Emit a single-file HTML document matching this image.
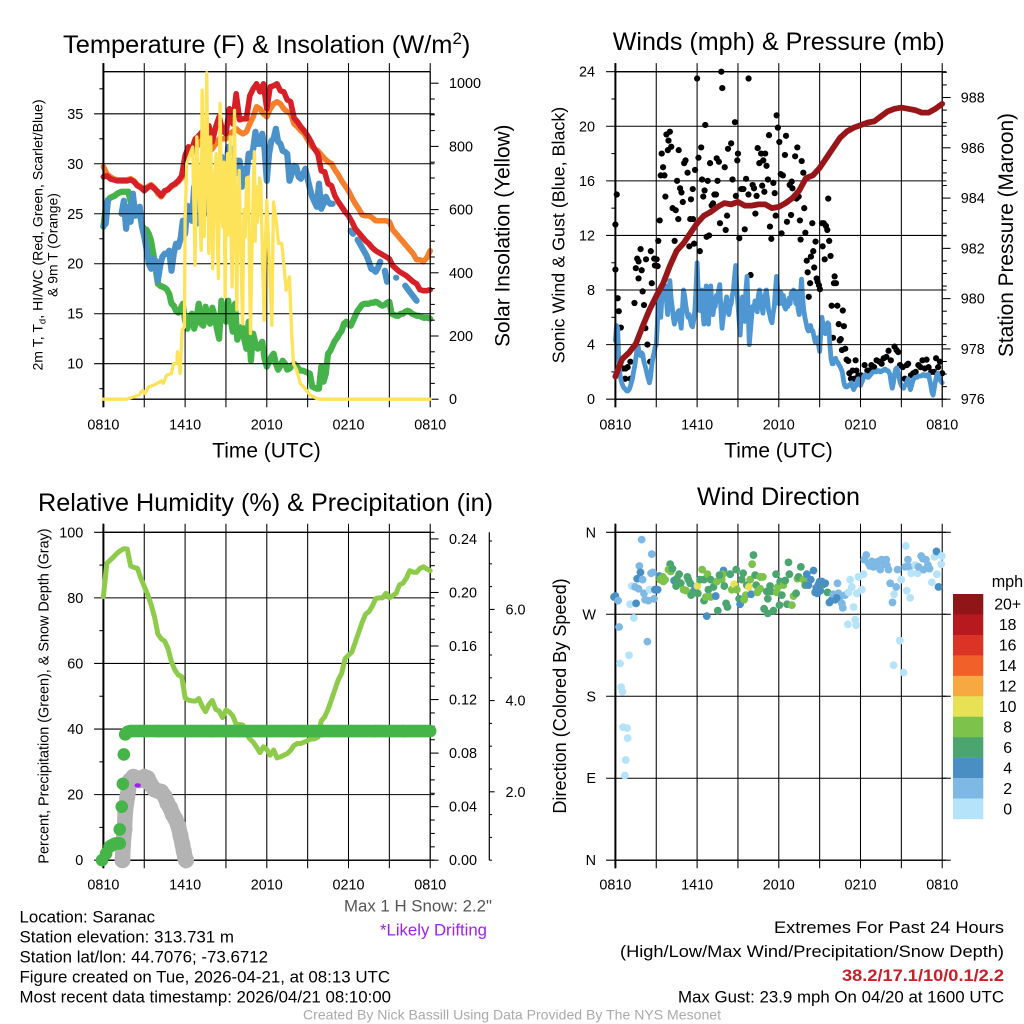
<!DOCTYPE html>
<html lang="en">
<head>
<meta charset="utf-8">
<title>Saranac Mesonet Meteogram</title>
<style>
html,body{margin:0;padding:0;background:#fff;width:1024px;height:1024px;overflow:hidden}
svg{display:block}
text{font-family:"Liberation Sans",sans-serif;fill:#000}
.title{font-size:25px}
.axis-big{font-size:20.8px}
.foot{font-size:16.2px}
</style>
</head>
<body>
<svg id="chart" width="1024" height="1024" viewBox="0 0 1024 1024">
<rect width="1024" height="1024" fill="#fff"/>
<g id="p1"></g>
<g id="p2"></g>
<g id="p3"></g>
<g id="p4"></g>
<g id="legend"></g>

<text class="title" x="63" y="53" style="font-size:25.4px">Temperature (F) &amp; Insolation (W/m<tspan dy="-9" font-size="17">2</tspan><tspan dy="9">)</tspan></text>
<text class="title" x="612.7" y="50" textLength="332" lengthAdjust="spacingAndGlyphs">Winds (mph) &amp; Pressure (mb)</text>
<text class="title" x="38" y="511" textLength="455" lengthAdjust="spacingAndGlyphs">Relative Humidity (%) &amp; Precipitation (in)</text>
<text class="title" x="697" y="505" textLength="163" lengthAdjust="spacingAndGlyphs">Wind Direction</text>

<text class="axis-big" x="212.3" y="457.3" textLength="108.4" lengthAdjust="spacingAndGlyphs">Time (UTC)</text>
<text class="axis-big" x="724.3" y="457.3" textLength="108.4" lengthAdjust="spacingAndGlyphs">Time (UTC)</text>

<text transform="translate(42.7,235) rotate(-90)" text-anchor="middle" font-size="14.1">2m T, T<tspan dy="3" font-size="9.5">d</tspan><tspan dy="-3">, HI/WC (Red, Green, Scarlet/Blue)</tspan></text>
<text transform="translate(57.3,245) rotate(-90)" text-anchor="middle" font-size="13.9">&amp; 9m T (Orange)</text>
<text class="axis-big" transform="translate(509.3,235.7) rotate(-90)" text-anchor="middle">Solar Insolation (Yellow)</text>
<text transform="translate(564.3,235) rotate(-90)" text-anchor="middle" font-size="17.9">Sonic Wind &amp; Gust (Blue, Black)</text>
<text class="axis-big" transform="translate(1013,235) rotate(-90)" text-anchor="middle">Station Pressure (Maroon)</text>
<text transform="translate(48.7,696) rotate(-90)" text-anchor="middle" font-size="14.4">Percent, Precipitation (Green), &amp; Snow Depth (Gray)</text>
<text transform="translate(566,696) rotate(-90)" text-anchor="middle" font-size="18.1">Direction (Colored By Speed)</text>

<text class="foot" x="344" y="911.7" textLength="148" lengthAdjust="spacingAndGlyphs" style="fill:#555">Max 1 H Snow: 2.2"</text>
<text class="foot" x="380" y="935.7" textLength="107" lengthAdjust="spacingAndGlyphs" style="fill:#a020f0">*Likely Drifting</text>
<text class="foot" x="19.5" y="922.3" textLength="135.5" lengthAdjust="spacingAndGlyphs">Location: Saranac</text>
<text class="foot" x="19.5" y="942.7" textLength="214.5" lengthAdjust="spacingAndGlyphs">Station elevation: 313.731 m</text>
<text class="foot" x="19.5" y="962.3" textLength="248.5" lengthAdjust="spacingAndGlyphs">Station lat/lon: 44.7076; -73.6712</text>
<text class="foot" x="19.5" y="982.3" textLength="370.5" lengthAdjust="spacingAndGlyphs">Figure created on Tue, 2026-04-21, at 08:13 UTC</text>
<text class="foot" x="19.5" y="1002.3" textLength="371.5" lengthAdjust="spacingAndGlyphs">Most recent data timestamp: 2026/04/21 08:10:00</text>
<text class="foot" x="774" y="933" textLength="230" lengthAdjust="spacingAndGlyphs">Extremes For Past 24 Hours</text>
<text class="foot" x="620" y="957" textLength="384" lengthAdjust="spacingAndGlyphs">(High/Low/Max Wind/Precipitation/Snow Depth)</text>
<text class="foot" x="842" y="981" textLength="162" lengthAdjust="spacingAndGlyphs" font-weight="bold" style="fill:#c8202a">38.2/17.1/10/0.1/2.2</text>
<text class="foot" x="678" y="1002.3" textLength="326" lengthAdjust="spacingAndGlyphs">Max Gust: 23.9 mph On 04/20 at 1600 UTC</text>
<text x="303" y="1019.7" textLength="418" lengthAdjust="spacingAndGlyphs" font-size="14" style="fill:#aaa">Created By Nick Bassill Using Data Provided By The NYS Mesonet</text>
</svg>

<script>
// ---- shared x axis ----
const timeTickHours = [0,3,6,9,12,15,18,21,24];
const timeLabelHours = [0,6,12,18,24];
const timeLabels = ["0810","1410","2010","0210","0810"];

// ---- panel 1: evenly spaced samples across 24 h ----
const temp2m = [
28.7,28.8,28.5,28.4, 28.3,28.3,28.3,28.3, 28.4,28.2,27.8,27.6, 27.3,27.6,27.8,27.5,
27.2,26.8,27.3,27.4, 27.8,28.0,28.3,28.8, 30.8,31.7,31.5,32.5, 32.8,33.2,33.3,33.8,
32.2,33.7,34.7,33.3, 33.0,35.5,34.0,37.0, 34.4,34.5,34.5,36.8, 37.5,38.0,37.2,38.0,
35.5,37.7,37.8,38.0, 37.3,37.2,36.4,36.2, 34.6,34.2,33.7,33.3, 32.8,32.2,31.5,31.0,
29.3,29.2,28.0,27.8, 26.8,26.2,25.7,25.2, 24.8,24.2,23.5,23.1, 22.7,22.3,22.0,21.6,
21.3,21.1,20.9,20.7, 20.5,19.8,19.5,19.2, 19.0,18.8,18.5,18.2, 18.0,17.4,17.3,17.3, 17.4];
const temp9m = [
29.7,29.0,28.7,28.5, 28.4,28.4,28.4,28.4, 28.5,28.3,27.9,27.7, 27.4,27.7,27.9,27.6,
27.0,26.7,27.2,27.5, 27.7,27.9,28.2,28.6, 30.0,31.0,31.0,31.5, 32.0,32.5,31.5,31.2,
31.5,32.0,32.5,32.5, 32.5,33.0,33.2,33.5, 33.2,33.0,33.2,34.0, 34.7,35.7,35.5,35.0,
34.7,35.5,36.0,36.2, 36.0,35.5,35.2,35.0, 34.0,33.7,33.3,33.0, 32.4,31.8,31.5,31.3,
30.9,30.5,30.2,30.0, 29.4,28.9,28.3,27.8, 27.3,26.6,26.0,25.5, 24.9,24.8,24.8,24.6,
24.3,24.3,24.3,24.3, 24.2,23.4,23.0,22.6, 22.2,21.8,21.4,21.0, 20.4,20.4,20.2,20.6, 21.3];
const windChill = [
23.8,24,26.3,null,null,null, null,null,25,26.3,23.5,25.7, 24.2,27,24.8,25.2,25.7,23.7,
22.7,21.5,20,19.5,20.5,20.3, 18.3,19.8,20.7,21,21,21.3, 19.3,21,22,21.7,22.5,24.3,
23,25.8,25.5,24.3,27.7,24, 24.5,25.8,27.7,25.5,25,28, 27,28,28,26.5,30.7,29,
28.7,31.7,29.5,31.5,29,30.3, 30.3,27.7,29.5,28.7,31,30.7, 31.5,33.2,32,32,33,31.5,
28.3,31,32.3,32.5,33.5,32.2, 32,31.3,31.2,31,28.3,29, 29.8,29.7,28.7,28.5,29,29.5,
28.5,27.5,26.7,26.2,25.7,28, 25.5,26,26.7,26.2,26,26, null,null,null,null,null,null,
null,23.3,23,null,22.4,22, 21.6,21.2,20.8,20.2,19.5,19.4, 19.2,19.6,20.2,null,19.3,18.2,
null,null,null,18.6,null,null, null,17.8,17.5,17.2,16.9,16.6, 16.3,null,null,null,null,null, null];
const dewPoint = [
23.7,25.5,26.4,26.6,26.7,26.8, 27,27.1,27.2,27.2,27.2,27.2, 26.2,25.5,25.3,25.2,25,23.8,
23.5,23.4,23,22.3,21,19.5, 18,17.8,17.7,17.6,17.4,17, 16,15.8,15.3,15.1,15.5,16,
14.3,13.5,14.6,15,13.5,14.5, 16,14,13.8,15.7,14.5,14, 15.6,14.8,13.5,12.5,16.3,15,
14.2,16.3,14.5,13.2,16,12.4, 13,13.7,12.5,11.5,14.2,10.3, 13,12,11.5,11.8,12.2,10.5,
9.7,10.2,10.7,11,10,9.4, 9.8,10.3,10,9.4,9.5,9.8, 10,9.8,9.5,9.3,9.3,9.2,
9.1,9,7.7,7.6,7.5,7.5, 9.7,8.2,9,11,11.3,11.8, 12.3,12.6,13,13.3,14,14.2,
13.9,13.8,14.3,14.8,15.3,15.6, 15.9,16,16,16,16.1,16.1, 16.2,16.1,15.9,15.8,15.9,16.1,
16.2,15,14.9,14.8,14.8,15, 15,15.2,15.3,15.2,15,14.9, 14.8,14.8,14.7,14.6,14.6,14.6, 14.5];
const solarHours = [
0,1.7,2.2,2.6,2.89,3.06,3.31,3.67,4.28,4.4,4.65,5,5.14,5.39,5.44,5.64,5.78,5.95,6,6.12,
6.37,6.56,6.73,6.86,6.98,7.18,7.25,7.4,7.59,7.74,7.88,8.03,8.15,8.28,8.36,8.45,8.57,8.68,8.77,8.85,
8.94,9.03,9.11,9.2,9.31,9.38,9.45,9.55,9.63,9.72,9.8,9.88,9.97,10.1,10.22,10.32,10.41,10.52,10.66,10.73,
10.8,10.88,10.95,11.02,11.09,11.15,11.22,11.3,11.39,11.47,11.56,11.68,11.8,11.9,12,12.37,12.49,12.69,12.86,13.1,
13.22,13.42,13.66,13.84,13.96,14.2,14.45,14.81,15.18,15.67,15.9,24];
const solarValues = [
0,0,7,13,28,18,39,44,58,50,76,81,113,113,150,81,218,229,566,746,
777,798,424,830,714,471,978,515,1033,461,830,413,700,777,500,382,936,600,545,750,
324,650,777,520,830,500,355,700,914,500,282,620,724,450,239,600,513,700,703,400,
208,400,545,700,783,500,673,560,588,700,683,450,250,500,630,234,624,566,493,493,
440,345,387,197,113,92,50,34,13,2,0,0];
const tempTicks = [10,15,20,25,30,35];
const tempMinorTicks = [7.5,12.5,17.5,22.5,27.5,32.5,37.5];
const solarTicks = [0,200,400,600,800,1000];
const solarMinorTicks = [50,100,150,250,300,350,450,500,550,650,700,750,850,900,950];

// ---- panel 2 ----
const windSpeed = [
4.3,5.4,5.2,3,1.8,1.4,1.1,0.9,0.8,0.7,0.6,0.6,
0.7,0.9,1.2,1.5,2,2.4,3,3.6,3.9,3.4,3.2,3.4,
3.3,2.8,2.5,2.2,1.8,1.5,1.2,1.6,2.5,3,3.4,3.8,
4,5.5,8,7,6,7.5,8,7.6,8.3,7.2,6.2,7.5,
8.7,7.5,6.8,6,5.5,5.8,6,6.4,6.5,5.8,5.2,6.5,
8,7.6,6.9,6.4,6,6.2,5.8,5.4,5.3,5.8,6.5,8,
10,8,6.5,7.2,8,6.5,5.5,7,8.3,6.8,5.5,7,
8.3,7,6.2,6.8,6.8,7.6,7.2,8,8.4,6.5,5.2,6,
6.5,7,7.5,6.8,6.2,6.8,7,7.6,8,9,9.8,8,
7,5.8,4.7,6.5,7.5,6.2,5.7,8,9,6.5,4,5,
6,6.8,6.6,7.2,7,6.4,7.6,8,7.5,6.8,6.3,7.2,
7.6,8,7.4,6.5,6.2,5.8,5.6,6.3,6.8,8,9,8,
7,7.6,7.8,7,7.6,6.8,6.6,7.2,6.8,7.4,7,7.8,
7.5,8,7.8,7,7.8,6.6,6.2,7.5,8.8,7.5,6.5,6,
5.6,5.2,5,5.2,5.4,5,5,4.6,4.2,4.3,4.5,4,
3.5,4.8,6,5.4,5.2,4.8,5.2,5.6,5.5,4,3,2.6,
2.6,2.9,3,2.8,2.7,2.5,2.4,2.2,2,1.4,1,0.9,
0.9,1,1,1.1,1.2,0.9,0.7,0.9,1,1.3,1.5,1.2,
1,1.2,1.4,1.7,1.8,1.7,1.6,1.6,1.7,1.8,1.9,2,
2,2,2,2.1,2.1,2,2,2.1,2.1,2.2,2.2,2.1,
2.1,2,1.8,1.2,0.8,1.2,1.8,2.2,2.3,2,1.6,1.2,
1,0.9,0.8,1,1.1,1.3,1.5,1,0.7,1,1.3,1.5,
1.6,1.6,1.6,1.7,1.7,1.7,1.7,1.8,1.8,1.7,1.7,1.8,
1.8,1.4,1,0.5,0.3,0.8,1.3,1.7,1.9,1.6,1.4,1.3,
1.2];
const pressure = [
976.9,977.6, 977.85,978.2, 978.9,979.55, 980.1,980.6, 981.3,981.9, 982.2,982.6,
983.0,983.3, 983.45,983.65, 983.8,983.75, 983.85,983.7, 983.7,983.75, 983.75,983.6,
983.65,983.8, 984.0,984.3, 984.8,984.9, 985.2,985.6, 986,986.4, 986.65,986.8,
986.9,987.0, 987.05,987.25, 987.45,987.55, 987.6,987.55, 987.5,987.4, 987.4,987.55, 987.75];
const gustHours = [
0,0,.1,.17,.25,.4,.6,.75,.9,.72,1.1,1.1,1.4,1.5,1.6,1.7,1.7,1.85,1.93,2,
2.1,2.2,2.35,2.25,2.55,2.6,2.67,2.85,3.03,2.9,3.1,3.15,3.25,3.33,3.4,3.5,3.6,3.67,3.75,3.85,
3.9,4,4.1,4.2,4.35,4.43,4.53,4.65,4.75,4.85,4.95,4.62,5.05,5.15,5.3,5.43,5.5,5.55,5.68,5.7,
5.78,5.85,6,6.1,6.2,6.3,6.36,6.45,6.55,6.6,6.7,6.78,6.88,6.95,7.07,7.17,7.27,7.39,7.44,7.5,
7.6,7.68,7.78,7.85,8.03,8.1,8.2,8.27,8.5,8.6,8.78,8.85,8.95,9,9.1,9.25,9.4,9.5,9.6,9.78,
9.77,9.93,10.08,10.18,10.28,10.37,10.45,10.57,10.7,10.78,10.86,10.94,11,11.1,11.2,11.28,11.35,11.45,11.6,11.7,
11.77,11.84,11.93,12.04,12.14,12.2,12.3,12.45,12.53,12.6,12.8,12.9,12.95,13,13.2,13.3,13.36,13.46,13.55,13.6,
13.68,13.8,13.87,13.95,14.05,14.12,14.2,14.3,14.36,14.46,14.53,14.6,14.7,14.78,14.85,14.95,15.02,15.17,15.22,15.3,
15.37,15.46,15.56,15.63,15.7,15.8,15.88,15.98,16.1,16.05,16.2,16.3,16.4,16.47,16.55,16.64,16.7,16.78,16.88,16.98,
17.1,17.18,17.3,17.42,17.55,17.64,17.7,17.84,17.9,18.03,18.3,18.5,18.64,18.8,19,19.18,19.4,19.55,19.7,19.9,
20.06,20.23,20.5,20.65,20.77,20.9,21.1,21.25,21.4,21.5,21.7,21.87,22.05,22.25,22.4,22.55,22.73,22.85,23,23.2,
23.4,23.55,23.7,23.83,24];
const gustValues = [
9.5,12.8,15,7.4,6.45,5.25,2.25,2.25,2.35,1.5,2.75,1.5,7.05,9.6,10.3,10.1,8.85,11,9.45,7.9,
6.9,5.2,4,10.25,2.75,10.85,8.5,10.3,10.25,9.8,9.75,11.6,13.1,16.4,18,17,16.4,14.85,19.4,18.25,
18.95,19.6,18.5,14,11.6,13.85,16,18.25,15.45,15.15,14.45,13.2,17.3,17.5,16.6,11.2,13.2,14.65,15.4,13.2,
11.4,16.8,23.5,17.7,10.85,18.45,16.1,14.85,15.3,20.1,11.9,16,12,17.3,14.2,14.35,15,15,17.65,16,
17.4,12.9,24,22.8,17,12.4,13.45,18.35,18.75,16.1,20.3,14.9,17.5,18,11.8,15.4,15.4,12.45,16.15,23.5,
15,9.1,15.7,15.45,13.6,14.9,18.4,17.3,18,15.65,17.5,15.2,18,17.1,16.1,19.35,12.65,11.75,15.85,15.1,
13.45,20.8,19.9,18.85,16.5,12.15,16.4,17.9,19.3,13,15.7,13.5,15.95,15.45,17.8,14.7,18.45,14.85,13.1,11.7,
17.45,16.6,14,12.2,10.15,9.3,7.5,8.5,10.45,12.9,10.85,9.65,11.55,8.85,8.6,8.35,8.05,12.9,11.2,12.9,
10.25,12.7,12.4,14.7,11.6,10.5,6.85,4.5,9,8.5,8.5,6.85,5.5,4.3,4.4,3.6,6.5,5.35,3.7,2.9,
2.8,1.9,1.5,2.1,1.5,2.85,2.1,1.75,1.6,1.75,2.5,2.1,2.1,2.5,2.35,2.85,2.75,2.6,3,3.1,
3.55,2.85,3.85,3.6,3.45,2.5,2.35,1.5,2.5,2.6,1.75,1.9,2,2.5,2.35,2.85,2.25,2.9,2.35,2,
2,3,2.35,2.75,1.9];
const windTicks = [0,4,8,12,16,20,24];
const windMinorTicks = [2,6,10,14,18,22];
const pressureTicks = [976,978,980,982,984,986,988];
const pressureMinorTicks = [976.5,977,977.5,978.5,979,979.5,980.5,981,981.5,982.5,983,983.5,984.5,985,985.5,986.5,987,987.5,988.5,989];

// ---- panel 3 ----
const humidity = [
80.4,90.5,91.5,92.5, 93.6,94.4,95,94.9, 89.7,89.3,89,86, 83.5,81,78,74.3,
69,67.5,66.8,64.5, 60.5,58,56.5,56, 49.5,48.8,48.6,48.5, 49.3,47,45.3,47.5,
48.7,46,45.5,43.5, 45.8,45.2,44,41.5, 41.4,41.2,38.5,37, 36,34.5,32.8,34.6,
33.8,32,33.6,31.2, 31.5,32,32.5,33.5, 35,35.6,35.6,36, 36.5,37,37,37.5,
42.5,43.7,46,49, 52,55,57,61.5, 62.5,63.5,66.5,69.5, 72.5,75,75.8,77.5,
79.8,80,80,81.4, 80,80.7,81.4,84, 84.5,86,88.3,87.8, 87.8,89,89.5,88.8, 88.3];
const precipHours = [-0.1,.2,.45,.6,.9,1.2,1.2,1.35,1.43,1.5,1.6,1.8,2,3,4,6,8,10,12,14,16,18,20,22,24];
const precipValues = [0,.005,.01,.011,.0125,.0125,.023,.04,.057,.079,.094,.096,.0965,.0965,.0965,.0965,.0965,.0965,.0965,.0965,.0965,.0965,.0965,.0965,.0965];
const snowHours = [1.4,1.45,1.55,1.6,1.75,1.95,2.2,2.45,2.7,3,3.25,3.5,3.75,4,4.25,4.5,4.7,4.9,5.1,5.3,5.5,5.65,5.8,5.9,6,6.07];
const snowDepth = [.5,.85,1.18,1.55,1.88,2.25,2.33,2.3,2.25,2.33,2.3,2.15,2.05,2.02,2,1.9,1.75,1.65,1.5,1.4,1.25,1.05,.85,.7,.55,.5];
const driftHours = [2.52];
const driftDepth = [2.14];
const humidityTicks = [0,20,40,60,80,100];
const humidityMinorTicks = [10,30,50,70,90];
const precipTicks = [0,.04,.08,.12,.16,.2,.24];
const precipMinorTicks = [.01,.02,.03,.05,.06,.07,.09,.1,.11,.13,.14,.15,.17,.18,.19,.21,.22,.23];
const snowTicks = [2,4,6];
const snowMinorTicks = [.5,1,1.5,2.5,3,3.5,4.5,5,5.5,6.5,7,7.5];

// ---- panel 4 ----
const dirHours = [
-.1,0,.2,.27,.34,.42,.51,.56,.86,.9,
.76,.69,1,1.08,1.2,1.35,1.45,1.52,1.6,1.69,
1.76,1.84,1.93,2,2.1,2.18,2.35,2.42,2.5,2.67,
2.62,2.74,2.84,2.9,3.1,3.23,3.28,3.48,3.52,3.65,
4.02,3.9,4.07,4.19,4.31,4.46,4.68,4.5,4.58,4.8,
5,5.19,5.29,5.36,5.49,5.56,5.73,5.85,6.02,6.05,
6.22,6.37,6.51,6.51,6.64,6.76,6.83,7,7,7.2,
7.37,6.71,7.52,7.45,7.81,7.94,7.89,7.64,8,8.13,
8.23,8.43,8.55,8.72,8.87,8.92,9.09,9.16,9.28,9.38,
9.45,9.58,9.65,9.8,9.9,9.97,10.04,10.14,10.26,10.34,
10.43,10.63,10.83,10.63,10.92,11.12,11.19,11.19,11.36,11.44,
11.61,11.8,11.93,11.85,12.05,12.1,12.22,12.34,12.47,12.61,
12.71,12.78,12.96,13.08,13.27,13.37,13.45,13.62,13.81,13.94,
14.06,14.18,14.35,14.55,14.67,14.84,14.92,15.16,15.28,15.41,
15.58,15.72,15.9,16.14,16.31,16.38,16.5,16.63,16.7,16.87,
17.07,17.12,17.24,17.36,17.49,17.61,17.68,17.73,17.85,18.1,
18.22,18.42,18.27,18.59,18.83,19.08,19.32,19.45,19.64,19.89,
20.06,19.94,20.18,20.35,20.47,20.62,20.43,20.72,20.89,20.99,
21.16,21.28,21.33,21.4,21.48,21.58,21.65,21.72,22.02,22.19,
22.26,22.46,22.58,22.63,22.8,22.95,23.07,23.24,23.44,23.61,
23.58,23.73,23.97,23.93,15.05,14.75,15.0,16.0,16.25,18.7,
18.95,19.2,19.55,19.75];
const dirDegrees = [
289,290,285,256,216,190,185,146,145,134,
110,93,225,281,301,266,300,282,309,298,
323,316,352,308,293,286,240,285,297,336,
315,316,287,297,297,312,308,311,306,308,
325,319,317,320,307,301,314,309,306,304,
297,296,311,308,304,291,295,300,301,293,
308,319,308,285,289,314,297,308,289,300,
290,268,274,306,308,318,314,313,301,282,
278,314,297,303,319,297,287,281,308,315,
286,291,302,300,308,292,325,335,313,302,
294,298,311,311,276,295,287,271,301,295,
274,314,300,294,280,306,291,302,307,281,
327,314,280,290,293,309,311,322,308,302,
314,302,308,318,294,293,303,306,303,304,
294,283,286,286,304,293,289,282,277,291,
259,294,308,300,278,264,258,293,311,297,
314,335,330,326,328,327,328,319,328,330,
319,324,304,283,292,300,214,319,241,308,
206,322,345,296,330,322,288,315,324,315,
322,334,331,319,330,324,320,305,333,314,
339,300,334,325,296,299,306,292,288,323,
322,325,330,325];
const dirSpeeds = [
5,5,3,3,1,1,1,1,1,1,
1,1,1,1,1,1,3,5,5,3,
3,5,3,3,3,3,3,3,1,3,
3,3,3,5,5,5,9,9,9,9,
7,9,9,7,5,7,7,7,7,7,
9,9,7,7,7,7,7,5,11,7,
7,9,7,7,9,9,7,7,9,7,
5,5,7,9,9,5,9,7,7,7,
7,7,9,11,7,9,7,5,7,7,
9,9,7,11,9,5,9,7,7,7,
9,9,9,9,7,7,7,7,7,7,
7,7,9,9,7,7,7,9,7,7,
7,7,9,9,7,9,7,7,9,7,
5,5,5,5,5,5,5,5,7,5,
7,5,5,5,3,3,3,3,3,3,
1,1,1,1,1,1,1,1,1,1,
1,3,3,3,3,3,3,3,3,3,
3,3,3,3,1,3,1,3,1,1,
1,3,1,1,3,3,1,1,1,1,
3,3,3,3,3,3,3,1,1,1,
5,5,1,1,5,5,5,3,5,3,
3,3,3,3];
const directionTicks = [0,90,180,270,360];
const directionLabels = ["N","E","S","W","N"];

// ---- legend ----
const legendLabels = ["20+","18","16","14","12","10","8","6","4","2","0"];
const legendColors = ["#8f1518","#b8191f","#dc3327","#f2602a","#f8a840","#e6e155","#7dc24b","#4ba56f","#4a8fc4","#7eb9e5","#b5e3fa"];
const legendBreaks = [20,18,16,14,12,10,8,6,4,2,0];

// ---- axis functions ----
const PW = 326.8, LEFT = 103.4, RIGHT_COL = 615.4;
const TOP_A = 71.7, BOT_A = 399.2, TOP_B = 532.3, BOT_B = 860.2;
const x1 = h => LEFT + h * PW / 24;
const x2 = h => RIGHT_COL + h * PW / 24;
const yTemp = v => 363.7 - (v - 10) * 9.996;
const ySolar = v => BOT_A - v * 0.316;
const yWind = v => BOT_A - v * (BOT_A - TOP_A) / 24;
const yPres = v => BOT_A - (v - 976) * 25.14;
const yRH = v => BOT_B - v * (BOT_B - TOP_B) / 100;
const yPrecip = v => BOT_B - v * 1338.7;
const ySnow = v => BOT_B - (v - 0.5) * 45.6;
const yDir = v => BOT_B - v * (BOT_B - TOP_B) / 360;

const SVGNS = 'http://www.w3.org/2000/svg';
function mk(tag, attrs, parent) {
  const e = document.createElementNS(SVGNS, tag);
  for (const k in attrs) e.setAttribute(k, attrs[k]);
  parent.appendChild(e);
  return e;
}
function seriesPath(vals, xf, yf) {
  let d = '', pen = false;
  const n = vals.length;
  vals.forEach((v, i) => {
    if (v === null) { pen = false; return; }
    const X = xf(i * 24 / (n - 1)).toFixed(2), Y = yf(v).toFixed(2);
    const nextGone = i + 1 >= n || vals[i + 1] === null;
    if (!pen) { d += 'M' + X + ' ' + Y; if (nextGone) d += 'L' + X + ' ' + Y; }
    else d += 'L' + X + ' ' + Y;
    pen = true;
  });
  return d;
}
function drawSeries(g, name, vals, xf, yf, color, w) {
  const p = mk('path', {d: seriesPath(vals, xf, yf), fill: 'none', stroke: color, 'stroke-width': w, 'stroke-linejoin': 'round', 'stroke-linecap': 'round'}, g);
  
  
}
function drawXY(g, name, hs, vs, xf, yf, color, w) {
  const d = hs.map((h, i) => (i ? 'L' : 'M') + xf(h).toFixed(2) + ' ' + yf(vs[i]).toFixed(2)).join('');
  const p = mk('path', {d: d, fill: 'none', stroke: color, 'stroke-width': w, 'stroke-linejoin': 'round', 'stroke-linecap': 'round'}, g);
  
  
}
function seg(g, name, a, b, c, d, w, col) {
  const l = mk('line', {x1: a, y1: b, x2: c, y2: d, stroke: col || '#000', 'stroke-width': w || 1.05}, g);
  
  
}
function label(g, name, x, y, txt, anchor, size) {
  const t = mk('text', {x: x, y: y, 'text-anchor': anchor, 'font-size': size || 14.4}, g);
  
  
  t.textContent = txt;
}
// grid: vertical time lines with outer ticks, horizontal lines for the primary y axis
function frame(g, xf, top, bot, yf, ticks, minor) {
  const L = xf(0), R = xf(24);
  ticks.forEach(v => seg(g, 'y-gridline', L - 9.3, yf(v), R + 4.2, yf(v)));
  minor.forEach(v => seg(g, 'y-minor-tick', L - 4, yf(v), L, yf(v)));
  timeTickHours.forEach(h => seg(g, 'x-gridline', xf(h), top - 8.6, xf(h), bot + 8));
  seg(g, 'top-axis-line', L, top, R, top, 1.3);
  seg(g, 'bottom-axis-line', L, bot, R, bot, 1.3);
  seg(g, 'left-axis-line', L, top - 8.6, L, bot + 8, 2);
}
function rightAxis(g, name, xf, yf, ticks, minor) {
  const R = xf(24);
  seg(g, name + '-line', R, yf(ticks[0]), R, yf(ticks[0]) - (BOT_A - TOP_A), 1.05);
  ticks.forEach(v => seg(g, name + '-tick', R, yf(v), R + 8.4, yf(v)));
  minor.forEach(v => seg(g, name + '-minor-tick', R, yf(v), R + 4.6, yf(v)));
}
function xLabels(g, xf, base) {
  timeLabelHours.forEach((h, i) => label(g, 'x-tick-label', xf(h), base, timeLabels[i], 'middle'));
}

// ---- panel 1 ----
const p1 = document.getElementById('p1');
drawSeries(p1, 'dewpoint-line', dewPoint, x1, yTemp, '#46b34a', 6.2);
drawSeries(p1, 'temp-9m-line', temp9m, x1, yTemp, '#f57f2a', 5.6);
drawSeries(p1, 'wind-chill-line', windChill, x1, yTemp, '#4b92ca', 6.2);
drawSeries(p1, 'temp-2m-line', temp2m, x1, yTemp, '#d61f26', 5.6);
frame(p1, x1, TOP_A, BOT_A, yTemp, tempTicks, tempMinorTicks);
rightAxis(p1, 'solar-axis', x1, ySolar, solarTicks, solarMinorTicks);
drawXY(p1, 'solar-line', solarHours, solarValues, x1, ySolar, '#fce35a', 3.3);
tempTicks.forEach(v => label(p1, 'temp-tick-label', 83.3, yTemp(v) + 5, String(v), 'end'));
solarTicks.forEach(v => label(p1, 'solar-tick-label', 449, ySolar(v) + 5, String(v), 'start'));
xLabels(p1, x1, 429.3);

// ---- panel 2 ----
const p2 = document.getElementById('p2');
gustHours.forEach((h, i) => {
  const c = mk('circle', {cx: x2(h).toFixed(2), cy: yWind(gustValues[i]).toFixed(2), r: 3.1, fill: '#000'}, p2);
  
  
});
drawSeries(p2, 'wind-speed-line', windSpeed, x2, yWind, '#4f97d2', 4.8);
frame(p2, x2, TOP_A, BOT_A, yWind, windTicks, windMinorTicks);
rightAxis(p2, 'pressure-axis', x2, yPres, pressureTicks, pressureMinorTicks);
drawSeries(p2, 'pressure-line', pressure, x2, yPres, '#98161a', 5.8);
windTicks.forEach(v => label(p2, 'wind-tick-label', 595, yWind(v) + 5, String(v), 'end'));
pressureTicks.forEach(v => label(p2, 'pressure-tick-label', 960.7, yPres(v) + 5, String(v), 'start'));
xLabels(p2, x2, 429.3);

// ---- panel 3 ----
const p3 = document.getElementById('p3');
frame(p3, x1, TOP_B, BOT_B, yRH, humidityTicks, humidityMinorTicks);
rightAxis(p3, 'precip-axis', x1, yPrecip, precipTicks, precipMinorTicks);
drawSeries(p3, 'humidity-line', humidity, x1, yRH, '#8ecb4a', 5);
drawXY(p3, 'snow-depth-band', snowHours, snowDepth, x1, ySnow, '#b3b3b3', 15.5);
snowHours.forEach((h, i) => {
  const c = mk('circle', {cx: x1(h).toFixed(2), cy: ySnow(snowDepth[i]).toFixed(2), r: 8, fill: '#b3b3b3'}, p3);
  
  
});
precipHours.forEach((h, i) => {
  const c = mk('circle', {cx: x1(h).toFixed(2), cy: yPrecip(precipValues[i]).toFixed(2), r: 6.3, fill: '#46b549'}, p3);
  
  
  if (i > 0 && Math.abs(precipValues[i] - precipValues[i - 1]) < 0.003) {
    const run = mk('line', {x1: x1(precipHours[i - 1]).toFixed(2), y1: yPrecip(precipValues[i - 1]).toFixed(2), x2: x1(h).toFixed(2), y2: yPrecip(precipValues[i]).toFixed(2), stroke: '#46b549', 'stroke-width': 12.6}, p3);
    
    
  }
});
driftHours.forEach((h, i) => {
  const c = mk('ellipse', {cx: x1(h).toFixed(2), cy: ySnow(driftDepth[i]).toFixed(2), rx: 3.2, ry: 2.2, fill: '#a020f0'}, p3);
  
  
});
humidityTicks.forEach(v => label(p3, 'humidity-tick-label', 83.3, yRH(v) + 5, String(v), 'end'));
precipTicks.forEach(v => label(p3, 'precip-tick-label', 449, yPrecip(v) + 5, v.toFixed(2), 'start'));
xLabels(p3, x1, 889.3);
seg(p3, 'snow-axis-line', 489.3, TOP_B, 489.3, BOT_B, 1.2);
snowTicks.forEach(v => {
  seg(p3, 'snow-axis-tick', 489.3, ySnow(v), 494.6, ySnow(v));
  label(p3, 'snow-tick-label', 505.5, ySnow(v) + 5, v.toFixed(1), 'start');
});
snowMinorTicks.forEach(v => seg(p3, 'snow-axis-minor-tick', 489.3, ySnow(v), 492, ySnow(v)));

// ---- panel 4 ----
const p4 = document.getElementById('p4');
frame(p4, x2, TOP_B, BOT_B, yDir, directionTicks, []);
directionTicks.forEach(v => seg(p4, 'direction-tick-right', x2(24), yDir(v), x2(24) + 8.6, yDir(v)));
function speedColor(s) {
  for (let i = 0; i < legendBreaks.length; i++) if (s >= legendBreaks[i]) return legendColors[i];
  return legendColors[legendColors.length - 1];
}
dirHours.forEach((h, i) => {
  const c = mk('circle', {cx: x2(h).toFixed(2), cy: yDir(dirDegrees[i]).toFixed(2), r: 3.9, fill: speedColor(dirSpeeds[i])}, p4);
  
  
});
directionTicks.forEach((v, i) => label(p4, 'direction-tick-label', 596, yDir(v) + 5, directionLabels[i], 'end'));
xLabels(p4, x2, 889.3);

// ---- legend ----
const lg = document.getElementById('legend');
const cellH = 225 / legendLabels.length;
legendColors.forEach((col, i) => {
  const r = mk('rect', {x: 953, y: (594 + i * cellH).toFixed(2), width: 30.3, height: (cellH + 0.2).toFixed(2), fill: col}, lg);
  
  
  label(lg, 'legend-label', 1007.7, (609.3 + i * 20.5).toFixed(2), legendLabels[i], 'middle', 15.9);
});
label(lg, 'legend-unit', 991.7, 587, 'mph', 'start', 16.2);
</script>
</body>
</html>
